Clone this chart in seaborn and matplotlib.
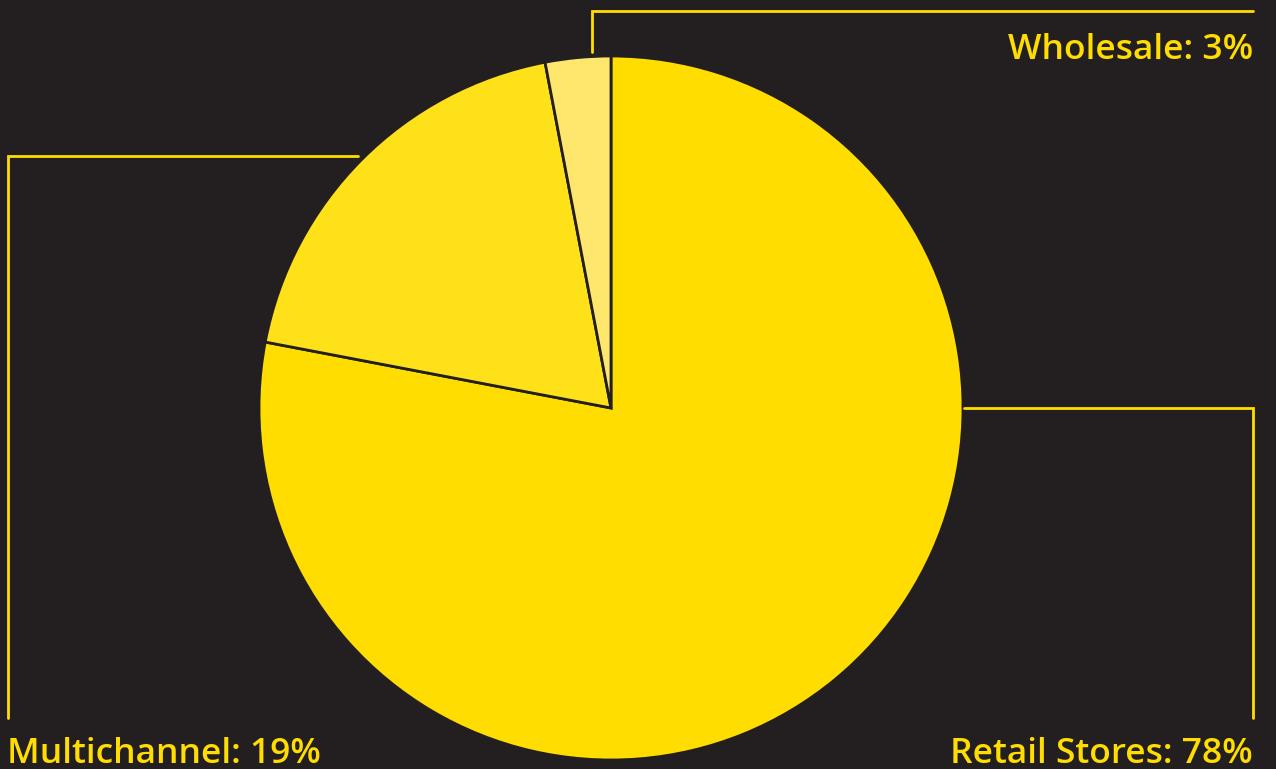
import matplotlib
matplotlib.use("Agg")
import matplotlib.pyplot as plt
import seaborn as sns

# Sales channel shares (%)
channels = ["Retail Stores", "Multichannel", "Wholesale"]
shares = [78, 19, 3]
slice_colors = ["#FFDD00", "#FFE11A", "#FFE76E"]

BG = "#231F20"
ACCENT = "#FFDD00"
W, H = 1276, 769

sns.set_theme(style="white")
plt.rcParams["font.family"] = ["Open Sans", "DejaVu Sans"]

fig = plt.figure(figsize=(W / 100, H / 100), dpi=100, facecolor=BG)
ax = fig.add_axes([0, 0, 1, 1])
ax.set_facecolor(BG)

cx, cy, r = 611, H - 408, 352
ax.pie(shares, colors=slice_colors, startangle=90, counterclock=False,
       center=(cx, cy), radius=r, frame=True,
       wedgeprops=dict(edgecolor=BG, linewidth=2))
ax.set_xlim(0, W)
ax.set_ylim(0, H)
ax.set_aspect("equal")
ax.axis("off")

def y(p):
    return H - p

lw = 2.0
# leader lines from each slice to its label
ax.plot([592, 592, 1253], [y(52), y(11), y(11)], color=ACCENT, lw=lw, solid_joinstyle="miter")
ax.plot([358, 8, 8], [y(156), y(156), y(718)], color=ACCENT, lw=lw, solid_joinstyle="miter")
ax.plot([964, 1253, 1253], [y(408), y(408), y(718)], color=ACCENT, lw=lw, solid_joinstyle="miter")

fs = 25.5
labels = [f"{c}: {v}%" for c, v in zip(channels, shares)]
kw = dict(color=ACCENT, fontsize=fs, fontweight="semibold", va="baseline")
ax.text(1253, y(59), labels[2], ha="right", **kw)
ax.text(7, y(763), labels[1], ha="left", **kw)
ax.text(1253, y(763), labels[0], ha="right", **kw)

fig.savefig("out.png", dpi=100, facecolor=BG)
